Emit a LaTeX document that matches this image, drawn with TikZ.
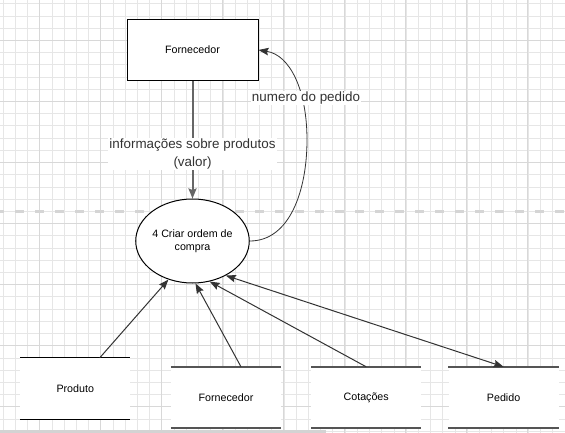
\documentclass[tikz,border=0pt]{standalone}
\usepackage{fontspec}
\setmainfont{Liberation Sans}
\usetikzlibrary{arrows.meta,shapes.geometric,calc}
\definecolor{gridminor}{HTML}{E6E6E6}
\definecolor{gridmajor}{HTML}{D8D8D8}
\definecolor{dashcol}{HTML}{D5D5D5}
\definecolor{edgecol}{HTML}{333333}
\definecolor{thickcol}{HTML}{666666}
\definecolor{storeline}{HTML}{555555}
\definecolor{scrollcol}{HTML}{D3D3D3}
\tikzset{
  ntext/.style={font=\fontsize{10.7}{13.3}\selectfont, text=black},
  elabel/.style={font=\fontsize{13.4}{18}\selectfont, text=edgecol, fill=white, inner sep=1pt, align=center},
  entitybox/.style={draw=black, line width=1pt, fill=white, minimum width=131pt, minimum height=61pt, inner sep=0pt, ntext},
  procnode/.style={ellipse, draw=black, line width=1pt, fill=white, minimum width=98pt, minimum height=84pt, inner sep=0pt, align=center, ntext},
  storenode/.style={fill=white, minimum width=110pt, minimum height=61pt, inner sep=0pt, ntext},
  flow/.style={draw=edgecol, line width=1pt, -{Stealth[length=10pt,width=7.5pt,inset=1.5pt]}},
  biflow/.style={draw=edgecol, line width=1pt, {Stealth[length=10pt,width=7.5pt,inset=1.5pt]}-{Stealth[length=10pt,width=7.5pt,inset=1.5pt]}},
}
\begin{document}
\begin{tikzpicture}[x=1pt,y=-1pt]
\useasboundingbox (0,0) rectangle (565,433);
\fill[white] (0,0) rectangle (565,433);
% grid
\foreach \i in {0,...,46} {
  \draw[gridminor, line width=1pt] ({round(2.7+12.214*\i)+0.5},0) -- ({round(2.7+12.214*\i)+0.5},433);
}
\foreach \i in {0,...,35} {
  \draw[gridminor, line width=1pt] (0,{round(3.3+12.214*\i)+0.5}) -- (565,{round(3.3+12.214*\i)+0.5});
}
\foreach \i in {0,...,8} {
  \draw[gridmajor, line width=1pt] ({round(38.7+61.07*\i)+0.5},0) -- ({round(38.7+61.07*\i)+0.5},433);
}
\foreach \i in {0,...,6} {
  \draw[gridmajor, line width=1pt] (0,{round(40+61.07*\i)+0.5}) -- (565,{round(40+61.07*\i)+0.5});
}
% dashed separator
\draw[dashcol, line width=3pt, dash pattern=on 9pt off 11pt, dash phase=5pt] (0,211.5) -- (565,211.5);
% scrollbar
\fill[scrollcol] (0,430) rectangle (326,433);

% nodes
\node[entitybox] (forn) at (192.5,50) {Fornecedor};
\node[procnode] (proc) at (192.5,241) {4 Criar ordem de\\compra};

\node[storenode] (sprod) at (75.25,388.5) {Produto};
\node[storenode] (sforn) at (226,397.5) {Fornecedor};
\node[storenode] (scot) at (366.2,397.5) {Cotações};
\node[storenode] (sped) at (503.6,397.5) {Pedido};

% store lines
\draw[black, line width=1.3pt] (sprod.north west) -- (sprod.north east);
\draw[black, line width=1.3pt] (sprod.south west) -- (sprod.south east);
\foreach \s in {sforn,scot,sped} {
  \draw[storeline, line width=2pt] (\s.north west) -- (\s.north east);
  \draw[storeline, line width=2pt] (\s.south west) -- (\s.south east);
}

% flows
\draw[draw=thickcol, line width=2pt, -{Stealth[length=10pt,width=8pt,inset=1.5pt]}] (forn.south) -- (proc.north)
  node[elabel, pos=0.62] (lblinfo) {informações sobre produtos\\(valor)};

\draw[flow, line width=0.8pt] (proc.east) .. controls (290,241) and (307,190) .. (307,140)
  .. controls (307,90) and (290,55) .. (forn.east);
\node[elabel] (lblnum) at (306,98) {numero do pedido};

\draw[flow] ($(sprod.north)+(24.5,0)$) -- (proc.238.5);
\draw[flow] ($(sforn.north)+(15,0)$) -- (proc.274);
\draw[flow] (scot.north) -- (proc.293.7);
\draw[biflow] (proc.314.5) -- (sped.north);
\end{tikzpicture}
\end{document}
